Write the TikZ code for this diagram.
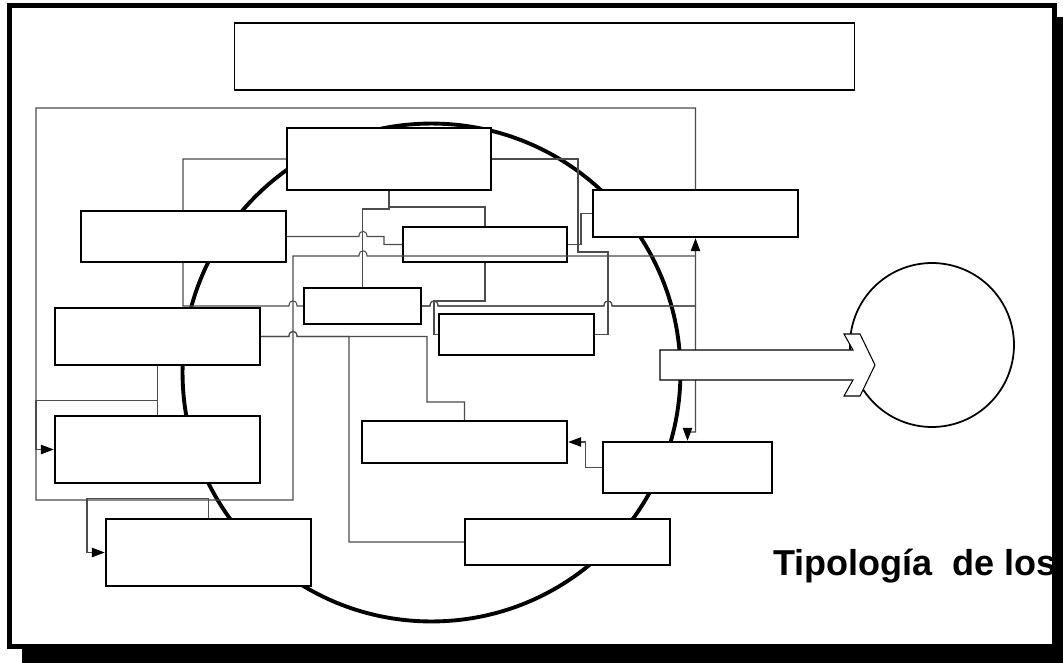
\documentclass[tikz,border=0pt]{standalone}
\usepackage{fontspec}
\setmainfont{Liberation Sans}
\usetikzlibrary{calc, arrows.meta}

\newcommand{\linehop}[2]{-- (#1-4, #2) .. controls (#1-4, #2-7) and (#1+4, #2-7) .. (#1+4, #2)}

\tikzset{
    box/.style={draw, line width=1.4pt, fill=white, inner sep=0pt},
    link/.style={draw=black!70, line width=0.6pt},
    linkarrow/.style={link, -{Triangle[length=2.6mm, width=1.9mm, color=black]}},
}

\begin{document}
\begin{tikzpicture}[x=0.02cm, y=-0.02cm]
    \useasboundingbox (0, 0) rectangle (1063, 663);
    \fill (22, 17) rectangle (1090, 690);
    \draw [line width=2.8pt, fill=white] (9.5, 5.5) rectangle (1054.5, 646.5);

    \node [draw, line width=0.6pt, inner sep=0pt, minimum width=12.42cm, minimum height=1.34cm] (heading) at (544.5, 56.5) {};
    \node [draw, circle, line width=2.2pt, inner sep=0pt, minimum size=9.96cm] (ring) at (431.5, 372.5) {};
    \node [draw, circle, line width=1pt, inner sep=0pt, minimum size=3.28cm] (goal) at (932, 345) {};

    \coordinate (T) at (389, 159);
    \coordinate (L2) at (157.5, 336.5);

    \draw [link] (T) ++(-102, 0) -| (183, 306) \linehop{293}{306} -- (304, 306);
    \draw [link] (T) ++(0, 31) -- ++(0, 17) -| (485, 227);
    \draw [link] (T) ++(0, 31) -- ++(0, 19) -| (362.5, 288);
    \draw [link] (T) ++(102, 0) -- (578, 159) -- (578, 252) -| (608, 334.5) -- (594, 334.5);

    \node [box, minimum width=4.08cm, minimum height=1.24cm] (T) at (T) {};
        \node [box, minimum width=2.34cm, minimum height=0.72cm] (C1) at ($(T) + (-26.5, 147)$) {};
        \node [box, minimum width=3.28cm, minimum height=0.70cm] (C2) at ($(T) + (96, 85.5)$) {};
    \node [box, minimum width=4.10cm, minimum height=1.02cm] (L1) at (183.5, 236.5) {};
    \node [box, minimum width=4.10cm, minimum height=1.14cm] (L2) at (L2) {};
        \node [box, minimum width=4.10cm, minimum height=1.34cm] (L3) at ($(L2) + (0, 113)$) {};
        \node [box, minimum width=4.10cm, minimum height=1.34cm] (L4) at ($(L3) + (51, 103)$) {};
    \node [box, minimum width=3.10cm, minimum height=0.82cm] (C3) at (516.5, 334.5) {};
    \node [box, minimum width=4.10cm, minimum height=0.84cm] (C4) at (464.5, 442) {};
    \node [box, minimum width=4.10cm, minimum height=0.94cm] (R1) at (695.5, 213.5) {};
    \node [box, minimum width=3.38cm, minimum height=1.02cm] (R2) at (687.5, 467.5) {};
    \node [box, minimum width=4.10cm, minimum height=0.92cm] (B1) at (567.5, 542) {};

    \draw [link] (C2.east) -- (581, 244.5) |- (R1.west);
    \draw [link] (C2.south) -- (485, 301) -- (434, 301) |- (C3.west);
    \draw [link] (L1.east) \linehop{363}{236.5} -- (384, 236.5) -- (384, 244.5) -- (C2.west);
    \draw [link] (L2.east) \linehop{293}{336.5} -- (427, 336.5) -- (427, 402) -| (C4.north);
    \draw [link] (L2.east) \linehop{293}{336.5} -- (349, 336.5) |- (B1.west);
    \draw [link] (L2.south) -- (L3.north);
    \draw [linkarrow] (L2.south) -- ++(0, 34) -| (36, 449.5) -- (L3.west);
    \draw [linkarrow] (L4.north) -- ++(0, -19) -| (87, 552.5) -- (L4.west);
    \draw [linkarrow] (R2.west) -- ++(-16, 0) |- (C4.east);
    \draw [linkarrow] (C1.east) \linehop{434}{306} \linehop{608}{306} -| (R1.south);
    \draw [linkarrow] (C1.east) \linehop{434}{306} \linehop{608}{306} -- (695.5, 306) -- (695.5, 432) -| (R2.north);
    \draw [link] (R1.north) -- (695.5, 108) -- (36, 108) -- (36, 500) -- (293, 500) -- (293, 256) \linehop{363}{256} -- (695.5, 256);

    \draw [line width=0.6pt, fill=white] (660, 350) -- (853, 350) -- (844, 334) -- (860, 334) -- (875, 365) -- (860, 396) -- (844, 396) -- (853, 380) -- (660, 380) -- cycle;

    \node [anchor=base west, inner sep=0pt, font=\fontsize{20.5}{24}\selectfont\bfseries] (caption) at (773, 575) {Tipología\ \ de los};
\end{tikzpicture}
\end{document}
